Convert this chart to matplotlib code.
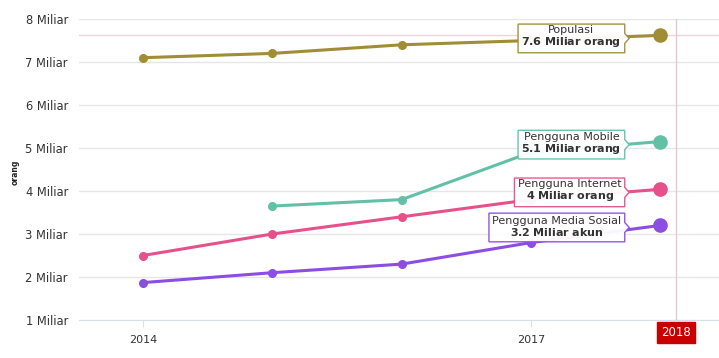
import matplotlib
matplotlib.use("Agg")
import matplotlib.pyplot as plt
from matplotlib.path import Path
import numpy as np

# data (milyar)
years = [2014, 2015, 2016, 2017, 2018]
populasi = [7.1, 7.2, 7.4, 7.5, 7.62]
mobile = [np.nan, 3.65, 3.8, 4.9, 5.15]
internet = [2.5, 3.0, 3.4, 3.8, 4.04]
sosial = [1.87, 2.1, 2.3, 2.8, 3.2]

series_names = ["Populasi", "Pengguna Mobile", "Pengguna Internet", "Pengguna Media Sosial"]
series_values = [populasi, mobile, internet, sosial]
series_labels = ["7.6 Miliar orang", "5.1 Miliar orang", "4 Miliar orang", "3.2 Miliar akun"]
series_colors = ["#a08d35", "#62c0a6", "#e6508b", "#8c4de3"]

yticks = [1, 2, 3, 4, 5, 6, 7, 8]
ytick_labels = ["%d Miliar" % v for v in yticks]
xticks = [2014, 2017]
hover_x = 2018.12
hover_label = "2018"


def callout(x0, y0, width, height, mutation_size):
    # box with small pointer on the right side
    pad = 0.3 * mutation_size
    x0, y0 = x0 - pad, y0 - pad
    x1, y1 = x0 + width + 2 * pad, y0 + height + 2 * pad
    ym = (y0 + y1) / 2
    tip = 0.4 * mutation_size
    half = 0.45 * mutation_size
    verts = [(x0, y0), (x1, y0), (x1, ym - half), (x1 + tip, ym),
             (x1, ym + half), (x1, y1), (x0, y1), (x0, y0)]
    return Path(verts, closed=True)


fig = plt.figure(figsize=(7.19, 3.58), dpi=100)
ax = fig.add_axes([79 / 719, 1 - 320 / 358, 1 - 79 / 719, (320 - 19) / 358])

ax.set_xlim(2013.505, 2018.454)
ax.set_ylim(1, 8)

for name, vals, lab, col in zip(series_names, series_values, series_labels, series_colors):
    ax.plot(years, vals, color=col, lw=2.2, marker="o", ms=5.5, zorder=3, solid_capstyle="round")
    ax.plot(years[-1], vals[-1], "o", color=col, ms=9.5, zorder=4)
    ax.annotate(name + "\n" + r"$\mathbf{" + lab.replace(" ", r"\ ") + "}$",
                xy=(years[-1], vals[-1]), xytext=(-28, -1.5), textcoords="offset points",
                ha="right", va="center", multialignment="center", fontsize=8,
                color="#333333", linespacing=1.0, zorder=5,
                bbox=dict(boxstyle=callout, fc="white", ec=col, lw=1, alpha=0.95))

# crosshairs
ax.axhline(populasi[-1], color="#f2d3dc", lw=1, zorder=1)
ax.axvline(hover_x, color="#e2c9d0", lw=1, zorder=1)
ax.annotate(hover_label, xy=(hover_x, 0), xycoords=("data", "axes fraction"),
            xytext=(0, -9), textcoords="offset points", ha="center", va="center",
            color="white", fontsize=8.5,
            bbox=dict(boxstyle="square,pad=0.35", fc="#c80000", ec="#c80000"),
            annotation_clip=False)

ax.set_yticks(yticks)
ax.set_yticklabels(ytick_labels)
ax.set_xticks(xticks)
ax.set_xticklabels([str(x) for x in xticks])
ax.grid(axis="y", color="#e6e6e6", lw=1)
ax.set_axisbelow(True)
ax.tick_params(axis="y", length=0, pad=8, labelsize=8.3, labelcolor="#333333")
ax.tick_params(axis="x", length=5, color="#e0e0e0", pad=6, labelsize=8, labelcolor="#333333")
for s in ["top", "right", "left"]:
    ax.spines[s].set_visible(False)
ax.spines["bottom"].set_color("#d8dde6")
ax.spines["bottom"].set_zorder(0.5)

fig.text(15 / 719, 1 - 172 / 358, "orang", rotation=90, fontsize=5.5, fontweight="bold",
         ha="center", va="center", color="#222222")

fig.savefig("out.png", dpi=100)
